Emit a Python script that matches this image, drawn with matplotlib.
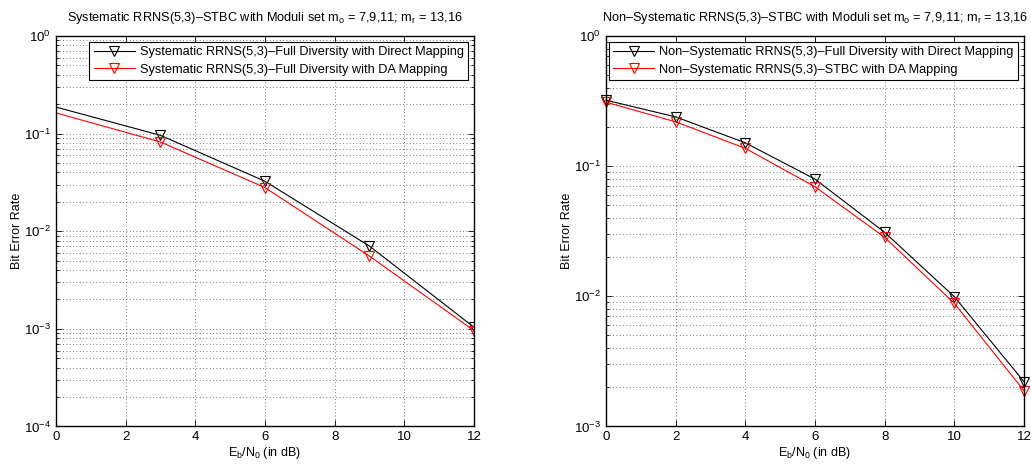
import matplotlib
matplotlib.use("Agg")
import matplotlib.pyplot as plt
from matplotlib.ticker import LogLocator, NullFormatter

plt.rcParams["font.family"] = ["Liberation Sans", "DejaVu Sans"]
plt.rcParams["font.size"] = 9
plt.rcParams["mathtext.fontset"] = "custom"
plt.rcParams["mathtext.rm"] = "Liberation Sans"
plt.rcParams["mathtext.it"] = "Liberation Sans"
plt.rcParams["mathtext.default"] = "rm"

# systematic code, Eb/N0 in dB (first point sits on the y axis, no marker)
snr_sys = [0, 3, 6, 9, 12]
ber_sys_direct = [0.187, 0.096, 0.0325, 0.00704, 0.00104]
ber_sys_da = [0.163, 0.082, 0.028, 0.00556, 0.00096]

# non-systematic code
snr_nonsys = [0, 2, 4, 6, 8, 10, 12]
ber_nonsys_direct = [0.321, 0.239, 0.151, 0.0795, 0.031, 0.00993, 0.00221]
ber_nonsys_da = [0.31, 0.219, 0.137, 0.0694, 0.0284, 0.00883, 0.00188]

titles = [
    "Systematic RRNS(5,3)\u2013STBC with Moduli set m$_o$ = 7,9,11; m$_r$ = 13,16",
    "Non\u2013Systematic RRNS(5,3)\u2013STBC with Moduli set m$_o$ = 7,9,11; m$_r$ = 13,16",
]
labels_sys = [
    "Systematic RRNS(5,3)\u2013Full Diversity with Direct Mapping",
    "Systematic RRNS(5,3)\u2013Full Diversity with DA Mapping",
]
labels_nonsys = [
    "Non\u2013Systematic RRNS(5,3)\u2013Full Diversity with Direct Mapping",
    "Non\u2013Systematic RRNS(5,3)\u2013STBC with DA Mapping",
]


def style_axes(ax, ylim):
    ax.set_yscale("log")
    ax.set_xlim(0, 12)
    ax.set_ylim(*ylim)
    ax.set_xticks(range(0, 13, 2))
    ax.yaxis.set_major_locator(LogLocator(base=10, numticks=10))
    ax.yaxis.set_minor_locator(LogLocator(base=10, subs=range(2, 10), numticks=20))
    ax.yaxis.set_minor_formatter(NullFormatter())
    ax.tick_params(which="both", direction="in", top=True, right=True, width=0.6)
    ax.tick_params(which="major", length=4, labelsize=9.5)
    ax.tick_params(which="minor", length=2)
    ax.grid(True, which="major", ls=(0, (1, 3)), color="0.3", lw=0.6)
    ax.grid(True, which="minor", axis="y", ls=(0, (1, 3)), color="0.3", lw=0.6)
    for sp in ax.spines.values():
        sp.set_linewidth(1.0)
    ax.set_xlabel("E$_b$/N$_0$ (in dB)", labelpad=1)
    ax.set_ylabel("Bit Error Rate", labelpad=0.5)


fig = plt.figure(figsize=(10.31, 4.66), dpi=100)
ax1 = fig.add_axes([0.0543, 0.0848, 0.4054, 0.838])
ax2 = fig.add_axes([0.5878, 0.0848, 0.4054, 0.838])

mk = dict(marker="v", markersize=7, markerfacecolor="none", lw=0.8, markeredgewidth=0.8)
ax1.plot(snr_sys, ber_sys_direct, color="black", markevery=[1, 2, 3, 4], label=labels_sys[0], **mk)
ax1.plot(snr_sys, ber_sys_da, color="red", markevery=[1, 2, 3, 4], label=labels_sys[1], **mk)
style_axes(ax1, (1e-4, 1))

ax2.plot(snr_nonsys, ber_nonsys_direct, color="black", label=labels_nonsys[0], clip_on=False, **mk)
ax2.plot(snr_nonsys, ber_nonsys_da, color="red", label=labels_nonsys[1], clip_on=False, **mk)
style_axes(ax2, (1e-3, 1))

for ax, title in zip((ax1, ax2), titles):
    ax.set_title(title, pad=11, fontsize=9.2)
    leg = ax.legend(loc="upper right", fancybox=False, framealpha=1, edgecolor="black",
                    borderaxespad=0.45, handlelength=3.2, borderpad=0.35, labelspacing=0.45,
                    handletextpad=0.4, fontsize=9.2)
    leg.get_frame().set_linewidth(0.8)

fig.savefig("out.png", dpi=100)
